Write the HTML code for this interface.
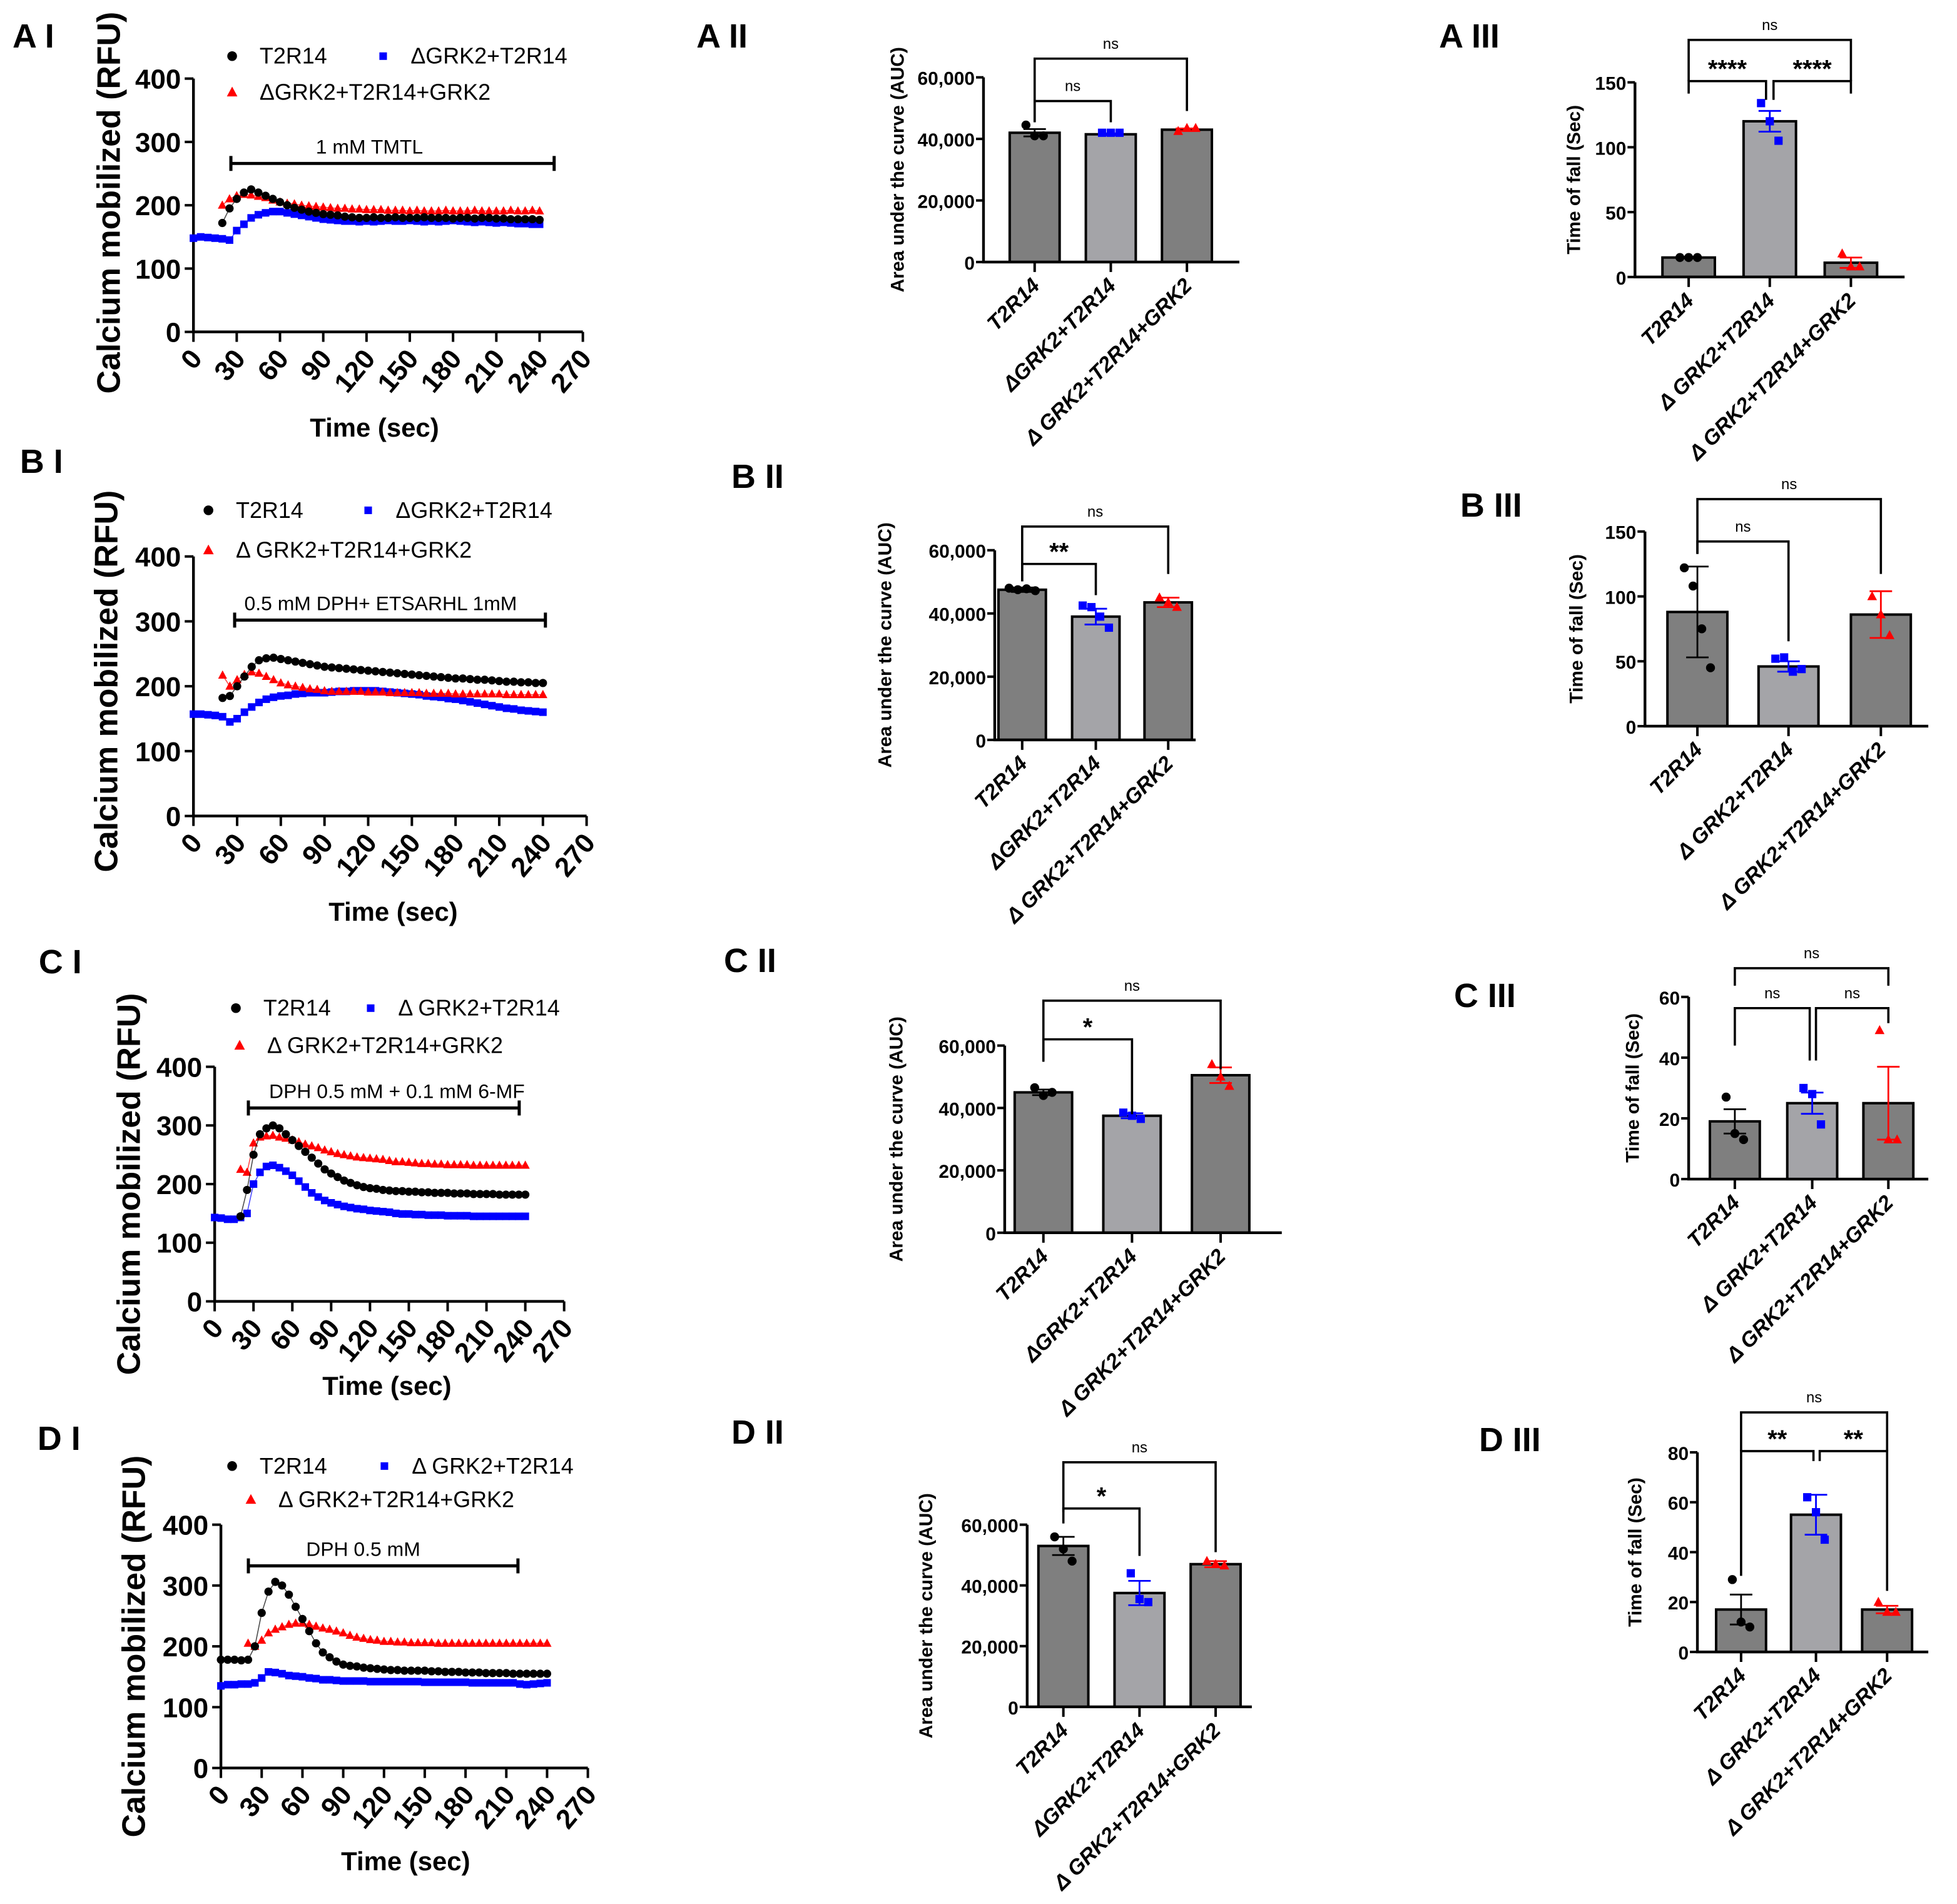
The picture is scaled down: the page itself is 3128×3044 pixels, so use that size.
<!DOCTYPE html>
<html><head><meta charset="utf-8">
<style>
html,body{margin:0;padding:0;background:#fff;}
svg{display:block;}
text{font-family:"Liberation Sans",Arial,sans-serif;}
</style></head>
<body>
<svg id="fig" xmlns="http://www.w3.org/2000/svg" width="3128" height="3044" viewBox="0 0 1568 1526" preserveAspectRatio="none"></svg>
<script>
// ---------- time course data (RFU), times 0..240 step 5 ----------
const TIMES = [0,5,10,15,20,25,30,35,40,45,50,55,60,65,70,75,80,85,90,95,100,105,110,115,120,125,130,135,140,145,150,155,160,165,170,175,180,185,190,195,200,205,210,215,220,225,230,235,240];
const XTICKS = [0,30,60,90,120,150,180,210,240,270];
const YTICKS_LINE = [0,100,200,300,400];

const A1_black = [null,null,null,null,172,195,210,220,225,220,215,210,205,200,196,193,190,188,186,185,184,182,181,180,180,181,180,180,181,180,180,180,181,180,180,180,179,180,180,179,180,180,179,179,178,178,178,178,177];
const A1_red   = [null,null,null,null,200,210,215,217,216,214,212,208,205,203,202,200,199,198,197,196,195,195,194,194,193,193,193,192,192,192,191,192,191,191,191,192,191,191,191,192,191,191,191,191,192,191,191,192,191];
const A1_blue  = [148,150,149,148,147,145,160,170,180,185,188,190,190,188,186,184,182,180,178,177,176,175,175,174,175,174,175,176,175,175,176,175,174,175,174,175,176,175,174,173,174,173,172,173,172,171,171,170,170];

const B1_black = [null,null,null,null,182,185,200,215,230,240,243,244,242,240,238,236,234,232,230,229,228,227,226,225,224,223,222,221,220,219,218,217,216,215,214,213,212,212,211,210,210,209,208,207,207,206,206,205,205];
const B1_red   = [null,null,null,null,217,200,210,218,222,220,215,210,205,202,200,198,196,195,193,192,192,192,192,192,191,191,191,190,190,190,190,190,189,189,189,189,188,188,188,188,188,188,188,187,187,187,187,187,187];
const B1_blue  = [157,157,156,155,153,145,150,160,168,175,180,183,185,186,188,189,190,190,190,191,192,192,193,193,193,193,192,191,190,189,188,187,185,184,183,181,180,178,176,174,172,170,168,166,165,163,162,161,160];

const C1_black = [null,null,null,null,145,190,250,285,295,300,295,285,275,265,255,245,235,225,218,212,206,202,198,195,193,192,190,189,188,188,187,187,186,186,185,185,185,184,184,184,183,183,183,183,182,182,182,182,182];
const C1_red   = [null,null,null,null,225,220,270,280,282,283,280,278,275,272,268,265,262,258,255,252,250,248,246,245,244,243,242,240,238,238,237,236,235,235,234,234,233,233,233,233,232,232,232,232,232,232,232,232,232];
const C1_blue  = [143,142,140,140,143,150,200,220,230,232,228,222,215,205,195,185,178,172,168,165,162,160,158,157,155,154,153,152,150,149,149,148,148,147,147,147,146,146,146,146,145,145,145,145,145,145,145,145,145];

const D1_black = [178,178,178,177,178,200,255,290,306,300,285,265,245,225,205,190,182,175,170,168,167,165,164,163,162,161,161,160,160,160,160,159,159,158,158,158,157,157,157,156,156,156,156,155,155,155,155,155,155];
const D1_red   = [null,null,null,null,205,200,210,222,228,232,236,238,238,236,233,230,228,225,222,218,215,213,211,210,208,208,207,207,206,206,206,206,205,205,205,205,205,205,205,205,205,205,205,205,205,205,205,205,205];
const D1_blue  = [135,137,137,138,138,140,148,158,157,155,152,151,150,148,147,145,145,144,143,143,143,143,142,142,142,142,142,142,142,142,141,141,141,141,141,141,141,140,140,140,140,140,140,140,138,137,138,139,140];

// ---------- bar data ----------
const AUC_TICKS = [0,20000,40000,60000];
const AUC_TICK_LABELS = ["0","20,000","40,000","60,000"];
const CAT_II = ["T2R14","\u0394GRK2+T2R14","\u0394 GRK2+T2R14+GRK2"];
const CAT_III = ["T2R14","\u0394 GRK2+T2R14","\u0394 GRK2+T2R14+GRK2"];

const A2_means = [42000,41500,43000];
const A2_err = [1200,300,400];
const A2_pts = [[44500,41000,41000],[42000,42000,42000],[42500,43500,43500]];
const A3_ticks = [0,50,100,150];
const A3_means = [15,120,11];
const A3_err = [0.6,8,4];
const A3_pts = [[15,15,15],[134,120,105],[18,8,8]];

const B2_means = [47500,39000,43500];
const B2_err = [700,2500,1500];
const B2_pts = [[48000,47500,47800,47200],[42500,42000,39000,35500],[45000,43500,42000]];
const B3_ticks = [0,50,100,150];
const B3_means = [88,46,86];
const B3_err = [35,4,18];
const B3_pts = [[122,108,75,45],[52,53,42,44],[100,86,70]];

const C2_means = [45000,37500,50500];
const C2_err = [900,800,2500];
const C2_pts = [[46500,44000,45000],[38500,37500,36500],[54000,50000,47000]];
const C3_ticks = [0,20,40,60];
const C3_means = [19,25,25];
const C3_err = [4,3.5,12];
const C3_pts = [[27,15,13],[30,28,18],[49,13,13]];

const D2_means = [53000,37500,47000];
const D2_err = [3000,4000,1000];
const D2_pts = [[56000,52000,48000],[44000,35500,34500],[48000,47000,46500]];
const D3_ticks = [0,20,40,60,80];
const D3_means = [17,55,17];
const D3_err = [6,8,1.5];
const D3_pts = [[29,12,10],[62,56,45],[20,16,16]];

// ---------- helpers ----------
const svg = document.getElementById('fig');
const NS = 'http://www.w3.org/2000/svg';
function mk(tag, parent, attrs){
  const el = document.createElementNS(NS, tag);
  for (const k in attrs) el.setAttribute(k, attrs[k]);
  parent.appendChild(el);
  return el;
}
function txt(parent, x, y, s, size, opts){
  opts = opts || {};
  const el = mk('text', parent, {x:x, y:y, 'font-size':size, 'font-weight':opts.weight||'bold', 'text-anchor':opts.anchor||'middle', fill:opts.fill||'#000'});
  if (opts.rot!==undefined) el.setAttribute('transform', 'rotate('+opts.rot+' '+x+' '+y+')');
  if (opts.italic) el.setAttribute('font-style','italic');
  if (opts.family) el.setAttribute('font-family', opts.family);
  el.textContent = s;
  return el;
}
function marker(g, type, x, y, color, s){
  let el;
  if (type==='circle') el = mk('circle', g, {cx:x, cy:y, r:s*0.6, fill:color});
  else if (type==='square') el = mk('rect', g, {x:x-s*0.55, y:y-s*0.55, width:s*1.1, height:s*1.1, fill:color});
  else el = mk('polygon', g, {points:(x)+','+(y-s*0.7)+' '+(x-s*0.65)+','+(y+s*0.5)+' '+(x+s*0.65)+','+(y+s*0.5), fill:color});
  return el;
}

// ---------- line chart ----------
function lineChart(c){
  const g = mk('g', svg, {});
  
  
  const xS = t => c.x0 + (c.x1 - c.x0) * t / 270;
  const yS = v => c.y0 - (c.y0 - c.y1) * v / 400;
  const pl = txt(g, c.lx, c.ly, c.label, 27, {anchor:'start', family:'DejaVu Sans'});
  
  
  const ax = mk('path', g, {d:'M'+c.x0+' '+c.y1+' V'+c.y0+' H'+c.x1, stroke:'#000', 'stroke-width':2.2, fill:'none'});
  
  
  YTICKS_LINE.forEach(v=>{
    mk('line', g, {x1:c.x0-7, x2:c.x0, y1:yS(v), y2:yS(v), stroke:'#000', 'stroke-width':2});
    const t = txt(g, c.x0-10, yS(v)+8, String(v), 22, {anchor:'end'});
    
    
  });
  XTICKS.forEach(v=>{
    mk('line', g, {x1:xS(v), x2:xS(v), y1:c.y0, y2:c.y0+8, stroke:'#000', 'stroke-width':2});
    const t = txt(g, xS(v)+8, c.y0+22, String(v), 22, {anchor:'end', rot:-50});
    
    
  });
  const yt = txt(g, c.ytx, (c.y0+c.y1)/2+c.ytdy, 'Calcium mobilized (RFU)', 26, {rot:-90, family:'DejaVu Sans'});
  
  
  const xt = txt(g, c.xtx, c.xty, 'Time (sec)', 21);
  
  
  const sb = mk('path', g, {d:'M'+c.bx0+' '+(c.by-6)+' V'+(c.by+6)+' M'+c.bx0+' '+c.by+' H'+c.bx1+' M'+c.bx1+' '+(c.by-6)+' V'+(c.by+6), stroke:'#000', 'stroke-width':2.5, fill:'none'});
  
  
  const st = txt(g, c.btx, c.by-8, c.btext, 16, {weight:'normal'});
  
  
  const lg = mk('g', g, {});
  
  
  marker(lg, 'circle', c.leg[0][0], c.leg[0][1]-6, '#000', 6.5);
  txt(lg, c.leg[0][0]+22, c.leg[0][1], 'T2R14', 18, {weight:'normal', anchor:'start'});
  marker(lg, 'square', c.leg[1][0], c.leg[1][1]-6, '#0000ff', 5.5);
  txt(lg, c.leg[1][0]+22, c.leg[1][1], c.blueName, 18, {weight:'normal', anchor:'start'});
  marker(lg, 'tri', c.leg[2][0], c.leg[2][1]-6, '#ff0000', 6.5);
  txt(lg, c.leg[2][0]+22, c.leg[2][1], c.redName, 18, {weight:'normal', anchor:'start'});
  const series = [[c.blue,'square','#0000ff','series-dgrk2'],[c.red,'tri','#ff0000','series-dgrk2-rescue'],[c.black,'circle','#000','series-t2r14']];
  series.forEach(s=>{
    const sg = mk('g', g, {});
    
    
    let d='';
    s[0].forEach((v,i)=>{ if(v===null) return; d += (d?'L':'M')+xS(TIMES[i])+' '+yS(v)+' '; });
    mk('path', sg, {d:d, stroke:s[2], 'stroke-width':0.8, fill:'none', opacity:0.7});
    s[0].forEach((v,i)=>{
      if (v===null) return;
      const m = marker(sg, s[1], xS(TIMES[i]), yS(v), s[2], 5.5);
      
      
    });
  });
}

lineChart({name:'chart-a1', label:'A I', lx:10, ly:38, x0:155, x1:467, y0:266, y1:63, ytx:96, ytdy:-2, xtx:300, xty:350,
  bx0:185, bx1:444, by:131, btx:296, btext:'1 mM TMTL',
  leg:[[186,51],[307,51],[186,80]], blueName:'\u0394GRK2+T2R14', redName:'\u0394GRK2+T2R14+GRK2',
  black:A1_black, red:A1_red, blue:A1_blue});
lineChart({name:'chart-b1', label:'B I', lx:16, ly:379, x0:155, x1:470, y0:654, y1:446, ytx:94, ytdy:-4, xtx:315, xty:738,
  bx0:188, bx1:437, by:497, btx:305, btext:'0.5 mM DPH+ ETSARHL 1mM',
  leg:[[167,415],[295,415],[167,447]], blueName:'\u0394GRK2+T2R14', redName:'\u0394 GRK2+T2R14+GRK2',
  black:B1_black, red:B1_red, blue:B1_blue});
lineChart({name:'chart-c1', label:'C I', lx:31, ly:780, x0:172, x1:452, y0:1043, y1:855, ytx:112, ytdy:0, xtx:310, xty:1118,
  bx0:199, bx1:416, by:888, btx:318, btext:'DPH 0.5 mM + 0.1 mM 6-MF',
  leg:[[189,814],[297,814],[192,844]], blueName:'\u0394 GRK2+T2R14', redName:'\u0394 GRK2+T2R14+GRK2',
  black:C1_black, red:C1_red, blue:C1_blue});
lineChart({name:'chart-d1', label:'D I', lx:30, ly:1162, x0:177, x1:471, y0:1417, y1:1222, ytx:116, ytdy:0, xtx:325, xty:1499,
  bx0:199, bx1:415, by:1255, btx:291, btext:'DPH 0.5 mM',
  leg:[[186,1181],[308,1181],[201,1208]], blueName:'\u0394 GRK2+T2R14', redName:'\u0394 GRK2+T2R14+GRK2',
  black:D1_black, red:D1_red, blue:D1_blue});

// ---------- bar chart ----------
function barChart(c){
  const g = mk('g', svg, {});
  
  
  const yS = v => c.y0 - (c.y0 - c.y1) * v / c.yMax;
  const pl = txt(g, c.lx, c.ly, c.label, 27, {anchor:'start', family:'DejaVu Sans'});
  
  
  const cols = ['#7f7f7f','#a4a4a8','#7f7f7f'];
  const mcol = ['#000','#0000ff','#ff0000'];
  const mtyp = ['circle','square','tri'];
  c.means.forEach((m,i)=>{
    const cx = c.centers[i];
    const b = mk('rect', g, {x:cx-c.bw/2, y:yS(m), width:c.bw, height:c.y0-yS(m), fill:cols[i], stroke:'#000', 'stroke-width':2});
    
    
    const e = c.err[i];
    const eb = mk('path', g, {d:'M'+cx+' '+yS(m+e)+' V'+yS(m-e)+' M'+(cx-9)+' '+yS(m+e)+' H'+(cx+9)+' M'+(cx-9)+' '+yS(m-e)+' H'+(cx+9), stroke:mcol[i], 'stroke-width':1.4, fill:'none'});
    
    
    const n = c.pts[i].length;
    c.pts[i].forEach((p,j)=>{
      const off = (j - (n-1)/2) * 7;
      const pm = marker(g, mtyp[i], cx+off, yS(p), mcol[i], 6);
      
      
    });
  });
  const ax = mk('path', g, {d:'M'+c.x0+' '+c.y1+' V'+c.y0+' H'+c.xEnd, stroke:'#000', 'stroke-width':2.2, fill:'none'});
  
  
  c.ticks.forEach((v,i)=>{
    mk('line', g, {x1:c.x0-6, x2:c.x0, y1:yS(v), y2:yS(v), stroke:'#000', 'stroke-width':2});
    const t = txt(g, c.x0-7, yS(v)+6, c.tickLabels[i], 15, {anchor:'end'});
    
    
  });
  c.centers.forEach((cx,i)=>{
    mk('line', g, {x1:cx, x2:cx, y1:c.y0, y2:c.y0+8, stroke:'#000', 'stroke-width':2});
    const t = txt(g, cx+5, c.y0+20, c.cats[i], 17, {anchor:'end', rot:-45, italic:true});
    
    
  });
  const yt = txt(g, c.ytx, (c.y0+c.y1)/2 - c.ytdy, c.ytitle, 15, {rot:-90, family:'DejaVu Sans'});
  
  
  c.brackets.forEach(b=>{
    const xa = c.centers[b[0]] + (b[4]||0), xb = c.centers[b[1]] + (b[5]||0);
    const ya = b[2] + (b[6]||10), yb = b[2] + (b[7]||10);
    const br = mk('path', g, {d:'M'+xa+' '+ya+' V'+b[2]+' H'+xb+' V'+yb, stroke:'#000', 'stroke-width':1.8, fill:'none'});
    
    
    const big = b[3] !== 'ns';
    const t = txt(g, (xa+xb)/2, b[2] - (big?3:8), b[3], big?20:12, {weight:big?'bold':'normal'});
    
    
  });
}

const AUC = 'Area under the curve (AUC)';
const TOF = 'Time of fall (Sec)';
barChart({name:'chart-a2', label:'A II', lx:558, ly:38, x0:788, y0:210, y1:62, yMax:60000, ticks:AUC_TICKS, tickLabels:AUC_TICK_LABELS,
  centers:[829,890,951], bw:40, xEnd:993, cats:CAT_II, ytx:724, ytdy:0, ytitle:AUC,
  means:A2_means, err:A2_err, pts:A2_pts, brackets:[[0,1,81,'ns',0,0,17,17],[0,2,47,'ns',0,0,51,42]]});
barChart({name:'chart-a3', label:'A III', lx:1153, ly:38, x0:1310, y0:222, y1:66, yMax:150, ticks:A3_ticks, tickLabels:['0','50','100','150'],
  centers:[1353,1418,1483], bw:42, xEnd:1526, cats:CAT_III, ytx:1266, ytdy:0, ytitle:TOF,
  means:A3_means, err:A3_err, pts:A3_pts, brackets:[[0,1,65,'****',0,-3,0,15],[1,2,65,'****',3,0,15,0],[0,2,32,'ns',0,0,33,33]]});

barChart({name:'chart-b2', label:'B II', lx:586, ly:391, x0:797, y0:593, y1:441, yMax:60000, ticks:AUC_TICKS, tickLabels:AUC_TICK_LABELS,
  centers:[819,878,936], bw:38, xEnd:958, cats:CAT_II, ytx:714, ytdy:0, ytitle:AUC,
  means:B2_means, err:B2_err, pts:B2_pts, brackets:[[0,1,452,'**',0,0,14,25],[0,2,422,'ns',0,0,44,38]]});
barChart({name:'chart-b3', label:'B III', lx:1170, ly:414, x0:1318, y0:582, y1:426, yMax:150, ticks:B3_ticks, tickLabels:['0','50','100','150'],
  centers:[1360,1433,1507], bw:48, xEnd:1545, cats:CAT_III, ytx:1268, ytdy:0, ytitle:TOF,
  means:B3_means, err:B3_err, pts:B3_pts, brackets:[[0,1,434,'ns',0,0,10,80],[0,2,400,'ns',0,0,44,60]]});

barChart({name:'chart-c2', label:'C II', lx:580, ly:779, x0:805, y0:988, y1:838, yMax:60000, ticks:AUC_TICKS, tickLabels:AUC_TICK_LABELS,
  centers:[836,907,978], bw:46, xEnd:1027, cats:CAT_II, ytx:723, ytdy:0, ytitle:AUC,
  means:C2_means, err:C2_err, pts:C2_pts, brackets:[[0,1,833,'*',0,0,18,60],[0,2,802,'ns',0,0,48,55]]});
barChart({name:'chart-c3', label:'C III', lx:1165, ly:807, x0:1353, y0:945, y1:799, yMax:60, ticks:C3_ticks, tickLabels:['0','20','40','60'],
  centers:[1390,1452,1513], bw:40, xEnd:1545, cats:CAT_III, ytx:1313, ytdy:0, ytitle:TOF,
  means:C3_means, err:C3_err, pts:C3_pts, brackets:[[0,1,808,'ns',0,-2,30,42],[1,2,808,'ns',3,0,42,12],[0,2,776,'ns',0,0,14,14]]});

barChart({name:'chart-d2', label:'D II', lx:586, ly:1157, x0:823, y0:1368, y1:1222, yMax:60000, ticks:AUC_TICKS, tickLabels:AUC_TICK_LABELS,
  centers:[852,913,974], bw:40, xEnd:1003, cats:CAT_II, ytx:747, ytdy:0, ytitle:AUC,
  means:D2_means, err:D2_err, pts:D2_pts, brackets:[[0,1,1209,'*',0,0,12,38],[0,2,1172,'ns',0,0,40,72]]});
barChart({name:'chart-d3', label:'D III', lx:1185, ly:1163, x0:1360, y0:1324, y1:1164, yMax:80, ticks:D3_ticks, tickLabels:['0','20','40','60','80'],
  centers:[1395,1455,1512], bw:40, xEnd:1545, cats:CAT_III, ytx:1315, ytdy:0, ytitle:TOF,
  means:D3_means, err:D3_err, pts:D3_pts, brackets:[[0,1,1163,'**',0,-2,100,8],[1,2,1163,'**',3,0,8,112],[0,2,1132,'ns',0,0,31,31]]});
</script>
</body></html>
